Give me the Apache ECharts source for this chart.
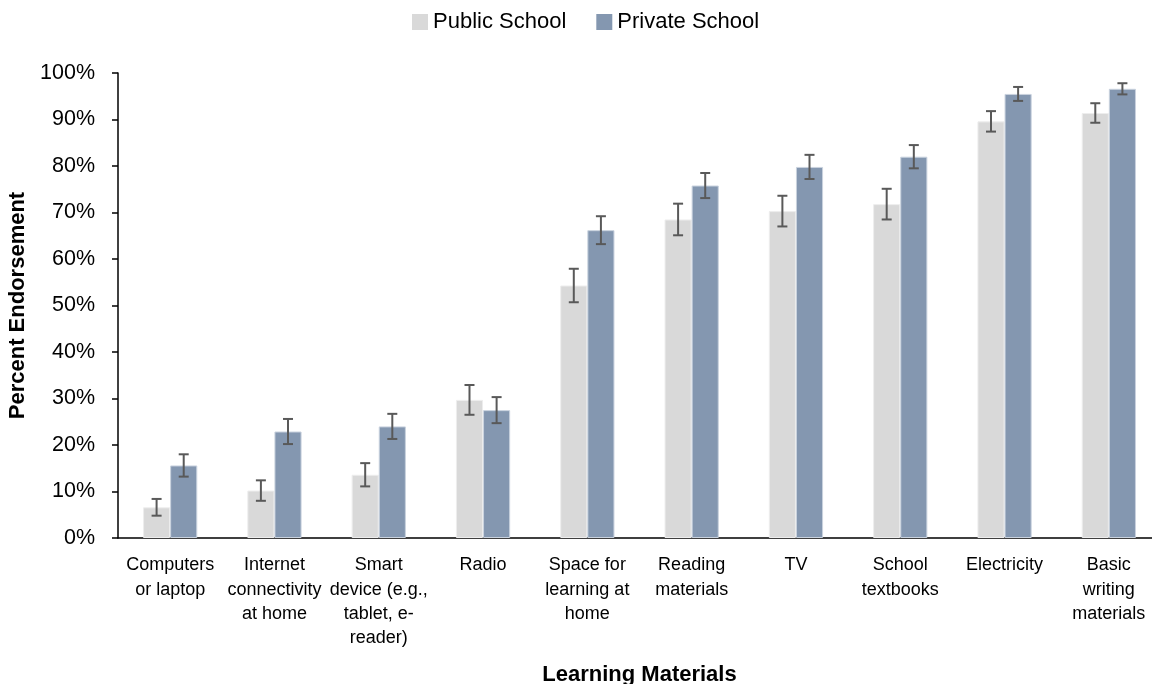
<!DOCTYPE html>
<html>
<head>
<meta charset="utf-8">
<script src="https://cdn.jsdelivr.net/npm/echarts@6/dist/echarts.min.js"></script>
<style>
  html, body { margin: 0; padding: 0; background: #ffffff; overflow: hidden; }
  #chart { width: 1152px; height: 684px; }
</style>
</head>
<body>
<div id="chart"></div>
<script>
// Learning materials available at home, by school type (percent endorsement, ±error)
const categories = [
  'Computers\nor laptop',
  'Internet\nconnectivity\nat home',
  'Smart\ndevice (e.g.,\ntablet, e-\nreader)',
  'Radio',
  'Space for\nlearning at\nhome',
  'Reading\nmaterials',
  'TV',
  'School\ntextbooks',
  'Electricity',
  'Basic\nwriting\nmaterials'
];
const publicValues  = [6.6, 10.2, 13.6, 29.7, 54.3, 68.5, 70.3, 71.8, 89.6, 91.4];
const publicErrors  = [1.8, 2.2, 2.5, 3.2, 3.6, 3.4, 3.3, 3.3, 2.2, 2.1];
const privateValues = [15.6, 22.9, 24.0, 27.5, 66.2, 75.8, 79.8, 82.0, 95.5, 96.6];
const privateErrors = [2.4, 2.7, 2.7, 2.8, 3.0, 2.7, 2.6, 2.5, 1.5, 1.2];
const seriesNames = ['Public School', 'Private School'];

const FONT = 'Liberation Sans';
const CAT_GAP = 0.48; // share of each category left empty around the bar pair

function errorData(values, errors) {
  return values.map((v, i) => [i, v - errors[i], v + errors[i]]);
}

// Whiskers drawn over each bar; side = -1 for the left bar, +1 for the right one
function whiskerRenderer(side) {
  return function (params, api) {
    const idx = api.value(0);
    const catW = api.size([1, 0])[0];
    const barW = catW * (1 - CAT_GAP) / 2;
    const lo = api.coord([idx, api.value(1)]);
    const hi = api.coord([idx, api.value(2)]);
    const x = lo[0] + side * barW / 2;
    const cap = 5;
    const style = { stroke: '#595959', lineWidth: 2 };
    return {
      type: 'group',
      children: [
        { type: 'line', shape: { x1: x, y1: hi[1], x2: x, y2: lo[1] }, style },
        { type: 'line', shape: { x1: x - cap, y1: hi[1], x2: x + cap, y2: hi[1] }, style },
        { type: 'line', shape: { x1: x - cap, y1: lo[1], x2: x + cap, y2: lo[1] }, style }
      ]
    };
  };
}

const chart = echarts.init(document.getElementById('chart'), null, { renderer: 'canvas' });
chart.setOption({
  animation: false,
  backgroundColor: '#ffffff',
  textStyle: { fontFamily: FONT },
  legend: {
    data: seriesNames,
    top: 11,
    left: 412,
    padding: 0,
    itemWidth: 16,
    itemHeight: 16,
    itemGap: 30,
    icon: 'rect',
    itemStyle: { borderWidth: 0 },
    textStyle: { fontFamily: FONT, fontSize: 22, color: '#000000' }
  },
  // the plot runs slightly past the right edge of the canvas
  grid: { left: 118, top: 73, width: 1043, height: 465, containLabel: false, outerBoundsMode: 'none' },
  xAxis: {
    type: 'category',
    data: categories,
    name: 'Learning Materials',
    nameLocation: 'middle',
    nameGap: 126,
    nameTextStyle: { fontFamily: FONT, fontSize: 22, fontWeight: 'bold', color: '#000000' },
    axisLine: { lineStyle: { color: '#000000', width: 1.5 } },
    axisTick: { show: false },
    axisLabel: {
      interval: 0,
      margin: 15,
      fontFamily: FONT,
      fontSize: 18,
      lineHeight: 24.4,
      color: '#000000',
      align: 'center'
    }
  },
  yAxis: {
    type: 'value',
    min: 0,
    max: 100,
    interval: 10,
    name: 'Percent Endorsement',
    nameLocation: 'middle',
    nameGap: 89,
    nameTextStyle: { fontFamily: FONT, fontSize: 22, fontWeight: 'bold', color: '#000000' },
    axisLine: { show: true, lineStyle: { color: '#000000', width: 1.5 } },
    axisTick: { show: true, length: 6, lineStyle: { color: '#000000', width: 1.5 } },
    splitLine: { show: false },
    axisLabel: {
      formatter: '{value}%',
      margin: 23,
      fontFamily: FONT,
      fontSize: 21.5,
      color: '#000000'
    }
  },
  series: [
    {
      name: seriesNames[0],
      type: 'bar',
      data: publicValues,
      barGap: '0%',
      barCategoryGap: (CAT_GAP * 100) + '%',
      itemStyle: { color: '#D9D9D9', borderColor: '#EDEDED', borderWidth: 1 }
    },
    {
      name: seriesNames[1],
      type: 'bar',
      data: privateValues,
      barGap: '0%',
      barCategoryGap: (CAT_GAP * 100) + '%',
      itemStyle: { color: '#8497B0', borderColor: '#C9D2DE', borderWidth: 1 }
    },
    {
      type: 'custom',
      name: 'publicError',
      renderItem: whiskerRenderer(-1),
      data: errorData(publicValues, publicErrors),
      encode: { x: 0, y: [1, 2] },
      z: 10,
      silent: true
    },
    {
      type: 'custom',
      name: 'privateError',
      renderItem: whiskerRenderer(1),
      data: errorData(privateValues, privateErrors),
      encode: { x: 0, y: [1, 2] },
      z: 10,
      silent: true
    }
  ]
});
</script>
</body>
</html>
